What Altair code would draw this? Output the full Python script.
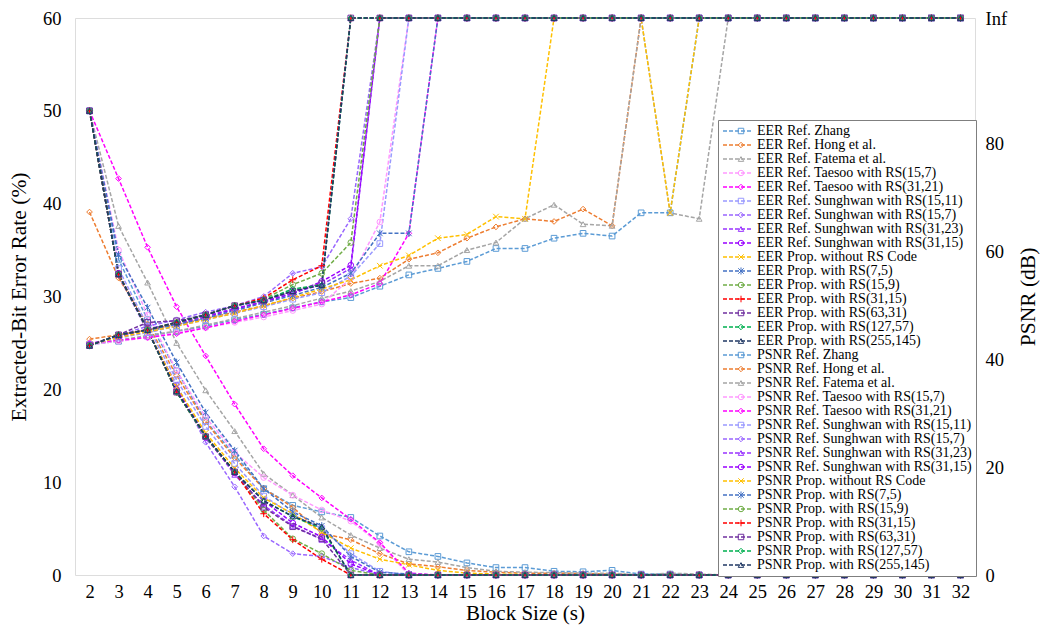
import altair as alt
import pandas as pd

INF = float("inf")
block_sizes = list(range(2, 33))

names = [
    "Ref. Zhang", "Ref. Hong et al.", "Ref. Fatema et al.",
    "Ref. Taesoo with RS(15,7)", "Ref. Taesoo with RS(31,21)",
    "Ref. Sunghwan with RS(15,11)", "Ref. Sunghwan with RS(15,7)",
    "Ref. Sunghwan with RS(31,23)", "Ref. Sunghwan with RS(31,15)",
    "Prop. without RS Code", "Prop. with RS(7,5)", "Prop. with RS(15,9)",
    "Prop. with RS(31,15)", "Prop. with RS(63,31)", "Prop. with RS(127,57)",
    "Prop. with RS(255,145)",
]
colors = ["#5B9BD5", "#ED7D31", "#A5A5A5", "#FF99FF", "#FF00FF",
          "#9999FF", "#9966FF", "#9933FF", "#9900FF",
          "#FFC000", "#4472C4", "#70AD47", "#FF0000", "#7030A0", "#00B050", "#203864"]
X_SHAPE = "M-1,-1L1,1M-1,1L1,-1"
STAR_SHAPE = "M-1,-1L1,1M-1,1L1,-1M0,-1.3L0,1.3"
PLUS_SHAPE = "M-1.2,0L1.2,0M0,-1.2L0,1.2"
shapes = ["square", "diamond", "triangle-up", "circle", "diamond",
          "square", "diamond", "triangle-up", "circle",
          X_SHAPE, STAR_SHAPE, "circle", PLUS_SHAPE, "square", "diamond", "triangle-up"]

# Extracted-bit error rate (%), block size 2..32
eer_zhang = [50, 34.0, 27.5, 22.0, 16.6, 12.9, 9.3, 7.5, 6.8, 6.2, 4.2, 2.5, 2.0, 1.3, 0.8, 0.8, 0.4, 0.35, 0.5, 0.1, 0.1] + [0] * 10
eer_hong = [39.1, 32.0, 27.0, 21.5, 16.5, 12.6, 9.3, 7.3, 4.5, 3.8, 2.3, 1.2, 0.9, 0.5, 0.3, 0.2, 0.2, 0.15, 0.1] + [0] * 12
eer_fatema = [50, 37.6, 31.5, 25.0, 19.9, 15.5, 10.9, 8.6, 6.2, 4.3, 2.9, 1.7, 1.4, 0.8, 0.4, 0.3, 0.25, 0.2, 0.2, 0, 0.2, 0.1] + [0] * 9
eer_taesoo_15_7 = [50, 35.0, 28.0, 22.0, 17.0, 13.2, 10.5, 8.6, 7.0, 5.8, 3.4] + [0] * 20
eer_taesoo_31_21 = [50, 42.7, 35.3, 28.9, 23.6, 18.4, 13.6, 10.7, 8.3, 6.0, 3.5, 0.2] + [0] * 19
eer_sung_15_11 = [50, 33.0, 26.8, 21.0, 16.0, 12.0, 8.5, 6.5, 5.0, 2.3, 0.4] + [0] * 20
eer_sung_15_7 = [50, 32.3, 26.2, 20.5, 14.3, 9.5, 4.2, 2.3, 2.0, 0.8] + [0] * 21
eer_sung_31_23 = [50, 32.5, 26.4, 20.2, 15.0, 10.8, 7.5, 5.3, 3.8, 1.6] + [0] * 21
eer_sung_31_15 = [50, 32.5, 26.4, 20.0, 14.8, 11.0, 8.0, 5.6, 4.1, 1.2] + [0] * 21
eer_prop_none = [50, 32.5, 26.4, 20.3, 15.3, 11.5, 8.3, 6.6, 4.6, 2.9, 1.7, 1.1, 0.5, 0.2, 0.1, 0.05, 0, 0, 0, 0, 0.05] + [0] * 10
eer_prop_7_5 = [50, 34.5, 28.8, 22.9, 17.5, 13.4, 9.3, 6.8, 5.3, 2.0, 0.3, 0.1] + [0] * 19
eer_prop_15_9 = [50, 32.4, 26.4, 19.7, 14.9, 11.1, 7.0, 3.9, 2.3, 0.5] + [0] * 21
eer_prop_31_15 = [50, 32.4, 26.4, 19.7, 14.9, 11.1, 6.6, 3.8, 1.7] + [0] * 22
eer_prop_63_31 = [50, 32.4, 26.4, 19.7, 14.9, 11.1, 7.3, 5.2, 3.9] + [0] * 22
eer_prop_127_57 = [50, 32.4, 26.4, 19.7, 14.9, 11.1, 8.0, 6.3, 5.0] + [0] * 22
eer_prop_255_145 = [50, 32.4, 26.4, 19.8, 15.0, 11.1, 8.0, 6.3, 5.2] + [0] * 22

# PSNR (dB), block size 2..32 (INF = infinite PSNR)
psnr_zhang = [42.7, 43.3, 44.2, 45.1, 46.1, 47.3, 48.3, 49.5, 50.6, 51.4, 53.5, 55.6, 56.8, 58.1, 60.5, 60.5, 62.4, 63.3, 62.8, 67.1, 67.1] + [INF] * 10
psnr_hong = [43.7, 44.5, 45.4, 46.4, 47.5, 48.7, 49.9, 51.3, 52.5, 54.0, 55.0, 58.5, 59.7, 62.4, 64.5, 66.0, 65.5, 67.8, 64.7] + [INF] * 12
psnr_fatema = [42.8, 43.5, 44.4, 45.2, 46.3, 47.5, 48.7, 49.9, 51.3, 52.6, 54.4, 57.3, 57.3, 60.2, 61.6, 66.0, 68.6, 65.0, 64.7, INF, 67.1, 66.0] + [INF] * 9
psnr_taesoo_15_7 = [42.7, 43.3, 44.0, 44.9, 45.8, 46.8, 47.8, 49.0, 50.2, 55.0, 65.4] + [INF] * 20
psnr_taesoo_31_21 = [43.0, 43.5, 44.0, 44.7, 45.8, 47.0, 48.2, 49.4, 50.6, 51.9, 54.0, 63.3] + [INF] * 19
psnr_sung_15_11 = [42.7, 43.9, 44.9, 46.1, 47.3, 48.5, 49.7, 51.1, 52.3, 55.4, 61.4] + [INF] * 20
psnr_sung_15_7 = [42.7, 44.4, 46.1, 47.3, 48.7, 49.9, 51.6, 55.9, 57.1, 66.0] + [INF] * 21
psnr_sung_31_23 = [42.7, 44.2, 45.6, 46.8, 48.0, 49.4, 50.7, 52.3, 53.8, 56.8] + [INF] * 21
psnr_sung_31_15 = [42.7, 44.2, 45.4, 46.6, 47.8, 49.2, 50.6, 52.1, 54.4, 57.4] + [INF] * 21
psnr_prop_none = [42.7, 44.0, 45.1, 46.1, 47.3, 48.5, 49.9, 51.4, 53.0, 54.7, 57.3, 59.2, 62.4, 63.1, 66.4, 66.0, INF, INF, INF, INF, 67.1] + [INF] * 10
psnr_prop_7_5 = [42.5, 44.4, 45.4, 46.4, 47.6, 49.0, 50.4, 51.8, 53.3, 55.9, 63.3, 63.3] + [INF] * 19
psnr_prop_15_9 = [42.5, 44.5, 45.4, 46.8, 48.2, 49.9, 51.1, 53.8, 55.9, 61.6] + [INF] * 21
psnr_prop_31_15 = [42.5, 44.5, 45.4, 46.8, 48.2, 49.9, 51.3, 54.7, 57.3] + [INF] * 22
psnr_prop_63_31 = [42.5, 44.5, 46.8, 47.1, 48.2, 49.9, 50.9, 52.6, 54.0] + [INF] * 22
psnr_prop_127_57 = [42.5, 44.5, 45.4, 46.8, 48.2, 49.9, 50.9, 53.0, 53.7] + [INF] * 22
psnr_prop_255_145 = [42.5, 44.5, 45.4, 46.8, 48.2, 49.9, 50.9, 52.6, 53.7] + [INF] * 22

eer_lists = [eer_zhang, eer_hong, eer_fatema, eer_taesoo_15_7, eer_taesoo_31_21,
             eer_sung_15_11, eer_sung_15_7, eer_sung_31_23, eer_sung_31_15,
             eer_prop_none, eer_prop_7_5, eer_prop_15_9, eer_prop_31_15,
             eer_prop_63_31, eer_prop_127_57, eer_prop_255_145]
psnr_lists = [psnr_zhang, psnr_hong, psnr_fatema, psnr_taesoo_15_7, psnr_taesoo_31_21,
              psnr_sung_15_11, psnr_sung_15_7, psnr_sung_31_23, psnr_sung_31_15,
              psnr_prop_none, psnr_prop_7_5, psnr_prop_15_9, psnr_prop_31_15,
              psnr_prop_63_31, psnr_prop_127_57, psnr_prop_255_145]

PSNR_TOP = 103.2  # axis position labelled "Inf"

eer_rows, psnr_rows = [], []
for i, name in enumerate(names):
    for s, v in zip(block_sizes, eer_lists[i]):
        eer_rows.append({"s": s, "v": v, "series": "EER " + name})
    for s, v in zip(block_sizes, psnr_lists[i]):
        psnr_rows.append({"s": s, "v": PSNR_TOP if v == INF else v, "series": "PSNR " + name})
eer_df = pd.DataFrame(eer_rows)
psnr_df = pd.DataFrame(psnr_rows)

domain = ["EER " + n for n in names] + ["PSNR " + n for n in names]
FONT = "Liberation Serif, Times New Roman, serif"
DASH = [4, 2]
LEG_X, LEG_Y, ROW_H = 643, 102, 14
LEG_FONT, LEG_ROWPAD = 14, -0.5

# legend 1: boxed, dashed coloured strokes with the labels
legend_lines = alt.Legend(title=None, orient="none", legendX=LEG_X, legendY=LEG_Y,
                          symbolLimit=0, symbolType="stroke", symbolSize=900,
                          symbolDash=DASH, symbolStrokeWidth=1.4,
                          labelFont=FONT, labelFontSize=LEG_FONT, labelColor="#000",
                          labelOffset=3, labelLimit=400, rowPadding=LEG_ROWPAD, clipHeight=ROW_H,
                          padding=4, strokeColor="#7F7F7F", fillColor="white")
# legend 2: markers only, laid over the middle of legend 1's strokes
legend_marks = alt.Legend(title=None, orient="none", legendX=LEG_X + 12, legendY=LEG_Y,
                          symbolLimit=0, symbolSize=30, symbolStrokeWidth=1,
                          symbolFillColor="white", labelExpr="''",
                          labelFont=FONT, labelFontSize=LEG_FONT, labelOffset=0,
                          rowPadding=LEG_ROWPAD, clipHeight=ROW_H, padding=4)

color_scale = alt.Scale(domain=domain, range=colors * 2)
shape_scale = alt.Scale(domain=domain, range=shapes * 2)

x = alt.X("s:O", scale=alt.Scale(type="point", padding=0.5),
          axis=alt.Axis(title="Block Size (s)", labelAngle=0, labelFont=FONT, labelFontSize=18.5,
                        titleFont=FONT, titleFontSize=21, titleFontWeight="normal",
                        labelColor="#000", titleColor="#000", ticks=False, domain=False,
                        labelPadding=7, titlePadding=2))

eer_scale = alt.Scale(domain=[0, 60], nice=False)
psnr_scale = alt.Scale(domain=[0, PSNR_TOP], nice=False)
left_axis = alt.Axis(title="Extracted-Bit Error Rate (%)", values=[0, 10, 20, 30, 40, 50, 60],
                     labelFont=FONT, labelFontSize=18.5, titleFont=FONT, titleFontSize=21.5,
                     titleFontWeight="normal", labelColor="#000", titleColor="#000",
                     ticks=False, domain=False, grid=False, labelPadding=14, titlePadding=12)
right_axis = alt.Axis(title="PSNR (dB)", orient="right", values=[0, 20, 40, 60, 80, PSNR_TOP],
                      labelExpr="datum.value > 100 ? 'Inf' : datum.label",
                      labelFont=FONT, labelFontSize=18.5, titleFont=FONT, titleFontSize=21.5,
                      titleFontWeight="normal", labelColor="#000", titleColor="#000",
                      titleAngle=270, ticks=False, domain=False, grid=False,
                      labelPadding=10, titlePadding=33)

line_mark = dict(strokeDash=DASH, strokeWidth=1.5)
pt_mark = dict(filled=False, size=32, strokeWidth=1, opacity=1)

eer_line = alt.Chart(eer_df).mark_line(**line_mark).encode(
    x=x, y=alt.Y("v:Q", scale=eer_scale, axis=left_axis),
    color=alt.Color("series:N", scale=color_scale, legend=legend_lines))
psnr_line = alt.Chart(psnr_df).mark_line(**line_mark).encode(
    x=x, y=alt.Y("v:Q", scale=psnr_scale, axis=right_axis),
    color=alt.Color("series:N", scale=color_scale, legend=None))
eer_pts = alt.Chart(eer_df).mark_point(**pt_mark).encode(
    x=x, y=alt.Y("v:Q", scale=eer_scale, axis=None),
    color=alt.Color("series:N", scale=color_scale, legend=legend_marks),
    shape=alt.Shape("series:N", scale=shape_scale, legend=legend_marks))
psnr_pts = alt.Chart(psnr_df).mark_point(**pt_mark).encode(
    x=x, y=alt.Y("v:Q", scale=psnr_scale, axis=None),
    color=alt.Color("series:N", scale=color_scale, legend=None),
    shape=alt.Shape("series:N", scale=shape_scale, legend=None))

chart = alt.layer(eer_line, psnr_line, eer_pts, psnr_pts).resolve_scale(
    y="independent", color="independent", shape="independent").properties(
    width=900, height=557,
    autosize=alt.AutoSizeParams(type="none"),
    padding={"left": 75, "top": 18, "right": 67, "bottom": 58},
).configure_view(stroke="#595959", strokeWidth=1).configure(background="white")

chart.save("out.html", embed_options={"renderer": "svg", "actions": False})
